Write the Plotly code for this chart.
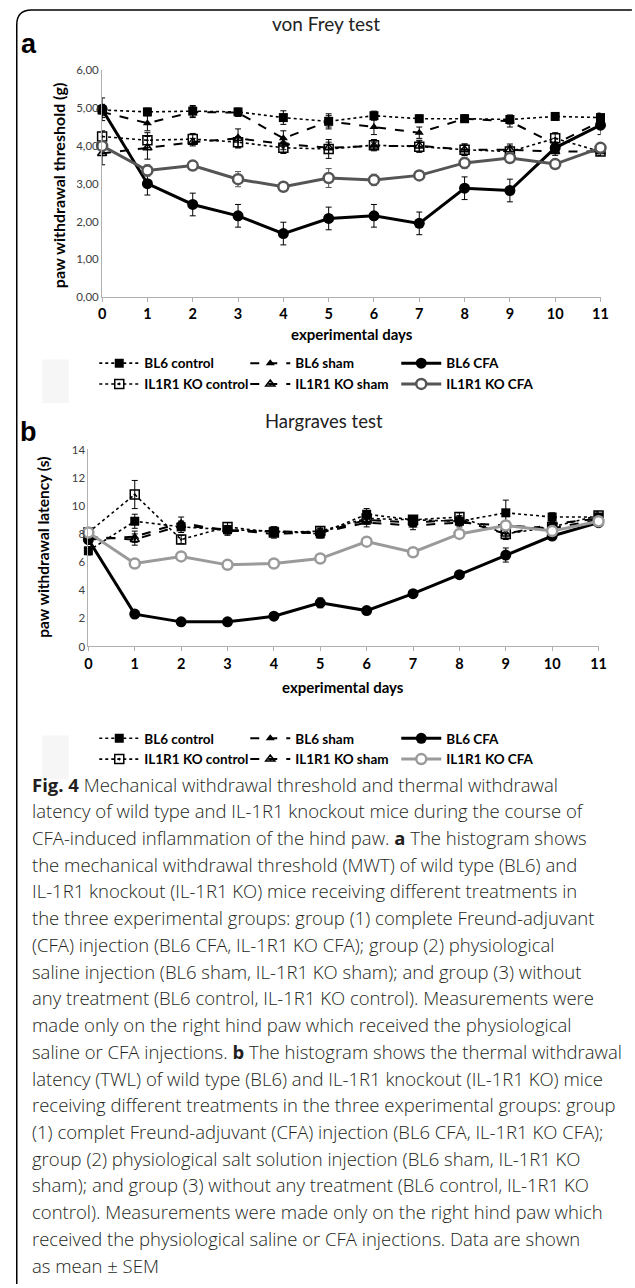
import plotly.graph_objects as go

W, H = 635, 1288

days = list(range(12))
x_ticklabels = [str(d) for d in days]

series_names = ["BL6 control", "BL6 sham", "BL6 CFA",
                "IL1R1 KO control", "IL1R1 KO sham", "IL1R1 KO CFA"]

# ---- Panel a: von Frey test, paw withdrawal threshold (g)
a_bl6_control = [4.95, 4.90, 4.92, 4.90, 4.75, 4.65, 4.80, 4.72, 4.72, 4.70, 4.78, 4.75]
a_bl6_sham = [4.90, 4.60, 4.90, 4.88, 4.20, 4.65, 4.50, 4.35, 4.72, 4.65, 4.05, 4.65]
a_bl6_cfa = [4.97, 3.00, 2.45, 2.15, 1.68, 2.08, 2.15, 1.95, 2.88, 2.82, 3.95, 4.55]
a_ko_control = [4.25, 4.15, 4.18, 4.10, 3.95, 3.92, 4.02, 3.98, 3.90, 3.85, 4.20, 3.85]
a_ko_sham = [3.80, 3.95, 4.10, 4.20, 4.05, 3.95, 4.00, 4.00, 3.90, 3.90, 3.85, 3.85]
a_ko_cfa = [4.00, 3.35, 3.48, 3.12, 2.92, 3.15, 3.10, 3.22, 3.55, 3.68, 3.52, 3.95]

a_bl6_control_err = [0.15, 0.10, 0.15, 0.10, 0.18, 0.15, 0.12, 0.10, 0.10, 0.12, 0.10, 0.12]
a_bl6_sham_err = [0.15, 0.20, 0.15, 0.10, 0.20, 0.20, 0.20, 0.15, 0.10, 0.15, 0.15, 0.20]
a_bl6_cfa_err = [0.30, 0.30, 0.30, 0.30, 0.30, 0.30, 0.30, 0.30, 0.30, 0.30, 0.15, 0.25]
a_ko_control_err = [0.15, 0.20, 0.15, 0.15, 0.15, 0.25, 0.15, 0.15, 0.15, 0.15, 0.15, 0.10]
a_ko_sham_err = [0.30, 0.30, 0.10, 0.25, 0.15, 0.15, 0.10, 0.15, 0.15, 0.15, 0.10, 0.10]
a_ko_cfa_err = [0.10, 0.15, 0.10, 0.20, 0.10, 0.25, 0.15, 0.10, 0.15, 0.10, 0.10, 0.10]

a_yticks = [0, 1, 2, 3, 4, 5, 6]
a_yticklabels = ["0,00", "1,00", "2,00", "3,00", "4,00", "5,00", "6,00"]

# ---- Panel b: Hargraves test, paw withdrawal latency (s)
b_bl6_control = [6.8, 8.9, 8.5, 8.3, 8.2, 8.0, 9.4, 9.0, 8.9, 9.5, 9.2, 9.2]
b_bl6_sham = [7.6, 7.8, 8.8, 8.2, 8.2, 8.1, 8.8, 8.6, 8.8, 8.6, 8.4, 9.0]
b_bl6_cfa = [7.6, 2.3, 1.75, 1.75, 2.15, 3.1, 2.55, 3.75, 5.1, 6.5, 7.85, 8.8]
b_ko_control = [8.1, 10.8, 7.6, 8.5, 8.1, 8.2, 9.1, 9.0, 9.2, 8.0, 8.5, 9.3]
b_ko_sham = [7.8, 7.6, 8.6, 8.3, 8.0, 8.1, 9.0, 8.8, 9.0, 8.0, 8.7, 9.1]
b_ko_cfa = [8.1, 5.9, 6.4, 5.8, 5.9, 6.25, 7.45, 6.7, 8.0, 8.6, 8.2, 8.9]

b_bl6_control_err = [0.3, 0.5, 0.4, 0.3, 0.3, 0.3, 0.4, 0.3, 0.3, 0.9, 0.3, 0.3]
b_bl6_sham_err = [0.3, 0.4, 0.4, 0.3, 0.3, 0.3, 0.3, 0.3, 0.3, 0.3, 0.3, 0.3]
b_bl6_cfa_err = [0.3, 0.2, 0.2, 0.2, 0.2, 0.35, 0.2, 0.2, 0.2, 0.5, 0.2, 0.2]
b_ko_control_err = [0.3, 1.0, 0.3, 0.3, 0.3, 0.3, 0.3, 0.3, 0.3, 0.4, 0.3, 0.3]
b_ko_sham_err = [0.3, 0.4, 0.3, 0.3, 0.3, 0.3, 0.3, 0.3, 0.3, 0.3, 0.3, 0.3]
b_ko_cfa_err = [0.2, 0.2, 0.2, 0.2, 0.2, 0.2, 0.2, 0.2, 0.2, 0.2, 0.2, 0.2]

b_yticks = [0, 2, 4, 6, 8, 10, 12, 14]
b_yticklabels = ["0", "2", "4", "6", "8", "10", "12", "14"]

caption_lines = [
    "<b>Fig. 4</b> Mechanical withdrawal threshold and thermal withdrawal",
    "latency of wild type and IL-1R1 knockout mice during the course of",
    "CFA-induced inflammation of the hind paw. <b>a</b> The histogram shows",
    "the mechanical withdrawal threshold (MWT) of wild type (BL6) and",
    "IL-1R1 knockout (IL-1R1 KO) mice receiving different treatments in",
    "the three experimental groups: group (1) complete Freund-adjuvant",
    "(CFA) injection (BL6 CFA, IL-1R1 KO CFA); group (2) physiological",
    "saline injection (BL6 sham, IL-1R1 KO sham); and group (3) without",
    "any treatment (BL6 control, IL-1R1 KO control). Measurements were",
    "made only on the right hind paw which received the physiological",
    "saline or CFA injections. <b>b</b> The histogram shows the thermal withdrawal",
    "latency (TWL) of wild type (BL6) and IL-1R1 knockout (IL-1R1 KO) mice",
    "receiving different treatments in the three experimental groups: group",
    "(1) complet Freund-adjuvant (CFA) injection (BL6 CFA, IL-1R1 KO CFA);",
    "group (2) physiological salt solution injection (BL6 sham, IL-1R1 KO",
    "sham); and group (3) without any treatment (BL6 control, IL-1R1 KO",
    "control). Measurements were made only on the right hind paw which",
    "received the physiological saline or CFA injections. Data are shown",
    "as mean \u00b1 SEM",
]


def px(x):
    return x / W


def py(y):
    return 1 - y / H


FONT = "Lato"
CAP_FONT = "Open Sans"

styles = {
    "BL6 control": dict(dash="dot", width=1.6, color="black",
                        marker=dict(symbol="square", size=9, color="black")),
    "BL6 sham": dict(dash="dash", width=2, color="black",
                     marker=dict(symbol="triangle-up", size=8, color="black")),
    "BL6 CFA": dict(dash="solid", width=3, color="black",
                    marker=dict(symbol="circle", size=11, color="black")),
    "IL1R1 KO control": dict(dash="dot", width=1.6, color="black",
                             marker=dict(symbol="square-open-dot", size=9, color="black",
                                         line=dict(width=1.5, color="black"))),
    "IL1R1 KO sham": dict(dash="dash", width=2, color="black",
                          marker=dict(symbol="triangle-up-open-dot", size=8, color="black",
                                      line=dict(width=1.5, color="black"))),
}

fig = go.Figure()


def add_panel(xa, ya, data, errs, ko_cfa_color, legends):
    for i, (name, vals, err) in enumerate(zip(series_names, data, errs)):
        leg = legends[0] if i < 3 else legends[1]
        if name == "IL1R1 KO CFA":
            line = dict(color=ko_cfa_color, width=3, dash="solid")
            marker = dict(symbol="circle", size=10, color="white",
                          line=dict(color=ko_cfa_color, width=2.5))
            ecolor = ko_cfa_color
        else:
            s = styles[name]
            line = dict(color=s["color"], width=s["width"], dash=s["dash"])
            marker = s["marker"]
            ecolor = "black"
        fig.add_trace(go.Scatter(
            x=days, y=vals, name=name, mode="lines+markers",
            line=line, marker=marker, xaxis=xa, yaxis=ya,
            legend=leg, cliponaxis=False,
            error_y=dict(type="data", array=err, color=ecolor, thickness=1, width=3),
        ))


add_panel("x", "y",
          [a_bl6_control, a_bl6_sham, a_bl6_cfa, a_ko_control, a_ko_sham, a_ko_cfa],
          [a_bl6_control_err, a_bl6_sham_err, a_bl6_cfa_err, a_ko_control_err, a_ko_sham_err, a_ko_cfa_err],
          "#555555", ["legend", "legend2"])
add_panel("x2", "y2",
          [b_bl6_control, b_bl6_sham, b_bl6_cfa, b_ko_control, b_ko_sham, b_ko_cfa],
          [b_bl6_control_err, b_bl6_sham_err, b_bl6_cfa_err, b_ko_control_err, b_ko_sham_err, b_ko_cfa_err],
          "#9a9a9a", ["legend3", "legend4"])

xaxis_common = dict(
    range=[0, 11], tickmode="array", tickvals=days, ticktext=x_ticklabels,
    showgrid=False, zeroline=False, showline=True, linecolor="#b0b0b0", linewidth=1,
    ticks="outside", ticklen=4, tickcolor="#b0b0b0",
    tickfont=dict(family=FONT, size=14.5, color="black", weight="bold"),
    fixedrange=True,
)
yaxis_common = dict(
    showgrid=False, zeroline=False, showline=True, linecolor="#b0b0b0", linewidth=1,
    ticks="", tickfont=dict(family=FONT, size=11.5, color="#404040"), tickmode="array",
    fixedrange=True,
)

legend_common = dict(
    orientation="h", xanchor="left", yanchor="middle",
    font=dict(family=FONT, size=13.5, color="black", weight="bold"),
    bgcolor="rgba(0,0,0,0)", itemwidth=40, entrywidth=96,
    tracegroupgap=0, itemclick=False, itemdoubleclick=False,
)

annotations = [
    dict(text="von Frey test", x=px(328), y=py(17), font=dict(family=FONT, size=19, color="#222")),
    dict(text="<b>a</b>", x=px(25), y=py(37), font=dict(family="Liberation Sans", size=27, color="black")),
    dict(text="paw withdrawal threshold (g)", x=px(55), y=py(180), textangle=-90,
         font=dict(family=FONT, size=16, color="black", weight="bold")),
    dict(text="experimental days", x=px(355), y=py(330),
         font=dict(family=FONT, size=15, color="black", weight="bold")),
    dict(text="Hargraves test", x=px(326), y=py(418), font=dict(family=FONT, size=18.5, color="#222")),
    dict(text="<b>b</b>", x=px(25), y=py(429), font=dict(family="Liberation Sans", size=27, color="black")),
    dict(text="paw withdrawal latency (s)", x=px(40), y=py(546), textangle=-90,
         font=dict(family=FONT, size=15.5, color="black", weight="bold")),
    dict(text="experimental days", x=px(346), y=py(687),
         font=dict(family=FONT, size=15, color="black", weight="bold")),
]
for i, line in enumerate(caption_lines):
    annotations.append(dict(
        text=line, x=px(26), y=py(785 + 27.0 * i), xanchor="left",
        font=dict(family=CAP_FONT, size=18.5, color="#231f20", weight=300),
    ))
for a in annotations:
    a.setdefault("xref", "paper")
    a.setdefault("yref", "paper")
    a.setdefault("showarrow", False)
    a.setdefault("xanchor", "center")
    a.setdefault("yanchor", "middle")

shapes = [
    dict(type="path", xref="paper", yref="paper",
         path=f"M {px(13)} {py(1290)} L {px(13)} {py(18)} Q {px(13)} {py(3)} {px(28)} {py(3)} L {px(640)} {py(3)}",
         line=dict(color="black", width=1.5)),
    dict(type="rect", xref="paper", yref="paper", x0=px(39), x1=px(66), y0=py(400), y1=py(356),
         fillcolor="#f6f6f6", line=dict(width=0), layer="below"),
    dict(type="rect", xref="paper", yref="paper", x0=px(39), x1=px(66), y0=py(780), y1=py(736),
         fillcolor="#f6f6f6", line=dict(width=0), layer="below"),
]

fig.update_layout(
    width=W, height=H, margin=dict(l=0, r=0, t=0, b=0),
    paper_bgcolor="white", plot_bgcolor="white", showlegend=True,
    xaxis=dict(domain=[px(100), px(608)], anchor="y", **xaxis_common),
    yaxis=dict(domain=[py(293), py(64)], anchor="x", range=[0, 6],
               tickvals=a_yticks, ticktext=a_yticklabels, **yaxis_common),
    xaxis2=dict(domain=[px(86), px(606)], anchor="y2", **xaxis_common),
    yaxis2=dict(domain=[py(646), py(447)], anchor="x2", range=[0, 14],
                tickvals=b_yticks, ticktext=b_yticklabels, **yaxis_common),
    legend=dict(x=px(92), y=py(360), **legend_common),
    legend2=dict(x=px(92), y=py(381), **legend_common),
    legend3=dict(x=px(92), y=py(739), **legend_common),
    legend4=dict(x=px(92), y=py(760), **legend_common),
    annotations=annotations,
    shapes=shapes,
)

fig.write_html("out.html", config={"displayModeBar": False},
               post_script="document.body.style.margin='0px';")
